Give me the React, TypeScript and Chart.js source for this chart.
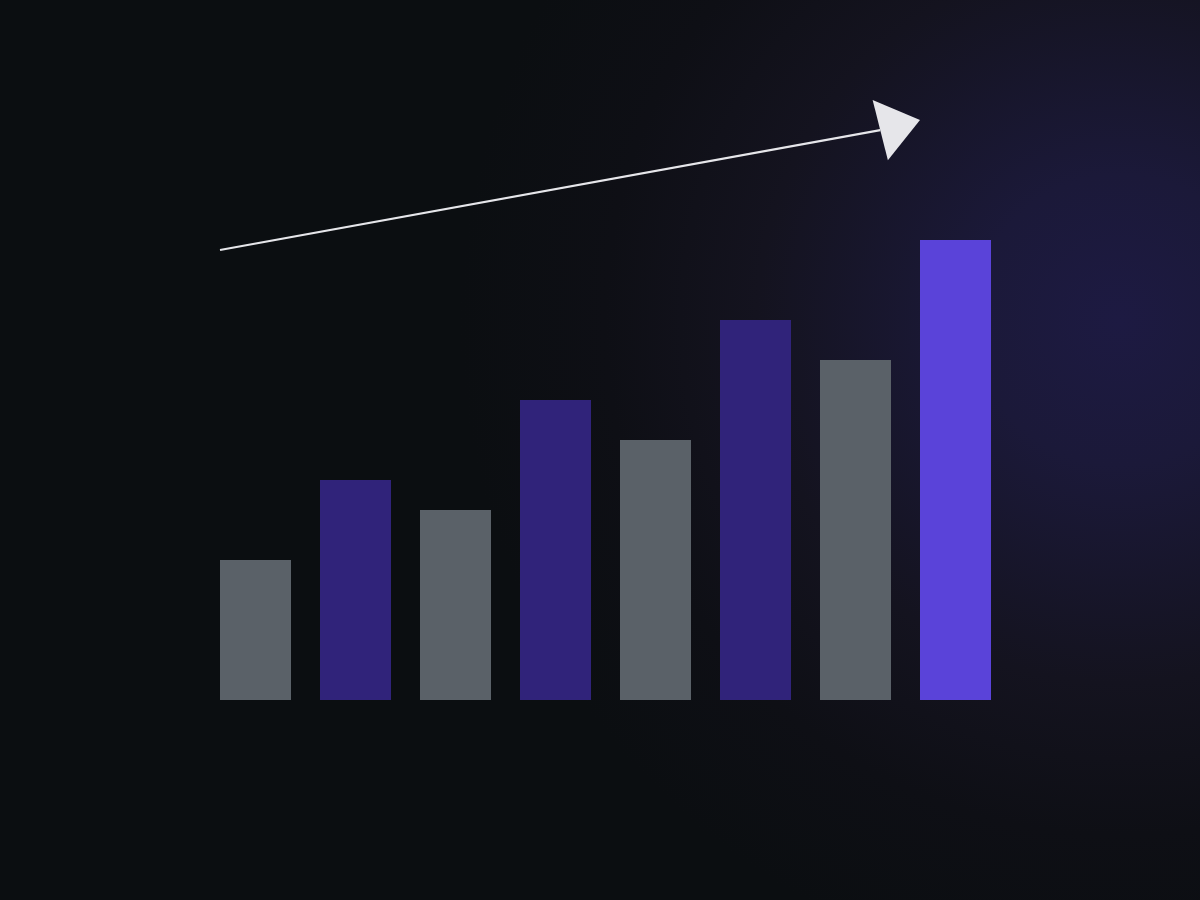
import React, { useEffect, useRef } from 'react';
import Chart from 'chart.js/auto';

// chart data
const categories = ['Jan', 'Feb', 'Mar', 'Apr', 'May', 'Jun', 'Jul', 'Aug'];
const values = [14, 22, 19, 30, 26, 38, 34, 46];
const yTicks = [0, 60];

// trend arrow, in data units: [category index, value]
const arrowFrom = [0, 45];
const arrowTo = [7, 58];

const GRAY = '#5a6168';
const DARK_PURPLE = '#30237a';
const BRIGHT_PURPLE = '#5a43d9';
const ARROW_COLOR = '#e6e6ea';

const barColor = (i: number) => {
  if (i === values.length - 1) return BRIGHT_PURPLE;
  return i % 2 === 0 ? GRAY : DARK_PURPLE;
};

// draws the trend arrow starting at the left edge of the bars
const arrowPlugin = {
  id: 'trendArrow',
  afterDatasetsDraw(chart: any) {
    const { ctx, scales } = chart;
    const meta = chart.getDatasetMeta(0);
    const half = meta.data[0] ? meta.data[0].width / 2 : 0;
    const x0 = scales.x.getPixelForValue(arrowFrom[0]) - half;
    const y0 = scales.y.getPixelForValue(arrowFrom[1]);
    const x1 = scales.x.getPixelForValue(arrowTo[0]) - half;
    const y1 = scales.y.getPixelForValue(arrowTo[1]);

    const ang = Math.atan2(y1 - y0, x1 - x0);
    // head sits slightly steeper than the shaft
    const headAng = ang - 0.065;
    const headLen = 41;
    const headHalf = 31;
    const bx = x1 - headLen * Math.cos(headAng);
    const by = y1 - headLen * Math.sin(headAng);

    ctx.save();
    ctx.strokeStyle = ARROW_COLOR;
    ctx.fillStyle = ARROW_COLOR;
    ctx.lineWidth = 2.2;
    ctx.beginPath();
    ctx.moveTo(x0, y0);
    ctx.lineTo(bx, by);
    ctx.stroke();

    ctx.beginPath();
    ctx.moveTo(x1, y1);
    ctx.lineTo(bx + headHalf * Math.sin(headAng), by - headHalf * Math.cos(headAng));
    ctx.lineTo(bx - headHalf * Math.sin(headAng), by + headHalf * Math.cos(headAng));
    ctx.closePath();
    ctx.fill();
    ctx.restore();
  },
};

const App: React.FC = () => {
  const chartRef = useRef<HTMLCanvasElement | null>(null);
  const chartInstance = useRef<Chart | null>(null);

  useEffect(() => {
    const canvas = chartRef.current;
    if (!canvas) return;
    const ctx = canvas.getContext('2d');
    if (!ctx) return;

    if (chartInstance.current) {
      chartInstance.current.destroy();
    }

    chartInstance.current = new Chart(ctx, {
      type: 'bar',
      data: {
        labels: categories,
        datasets: [
          {
            label: 'Growth',
            data: values,
            backgroundColor: values.map((_, i) => barColor(i)),
            borderWidth: 0,
            barPercentage: 0.71,
            categoryPercentage: 1,
          },
        ],
      },
      options: {
        responsive: false,
        animation: false,
        layout: {
          padding: { left: 205.5, right: 194.5, top: 100, bottom: 200 },
        },
        plugins: {
          legend: { display: false },
          tooltip: { enabled: false },
        },
        scales: {
          x: { display: false, offset: true },
          y: { display: false, min: yTicks[0], max: yTicks[1] },
        },
      },
      plugins: [arrowPlugin],
    });

    return () => {
      if (chartInstance.current) {
        chartInstance.current.destroy();
        chartInstance.current = null;
      }
    };
  }, []);

  return (
    <div
      style={{
        position: 'fixed',
        left: 0,
        top: 0,
        width: 1200,
        height: 900,
        background:
          'radial-gradient(circle 660px at 1120px 320px, #1d1a42 0%, #1b1939 22%, #14131f 55%, #0e0f15 78%, #0b0e11 100%)',
      }}
    >
      <canvas ref={chartRef} width={1200} height={900} style={{ display: 'block' }} />
    </div>
  );
};

export default App;
